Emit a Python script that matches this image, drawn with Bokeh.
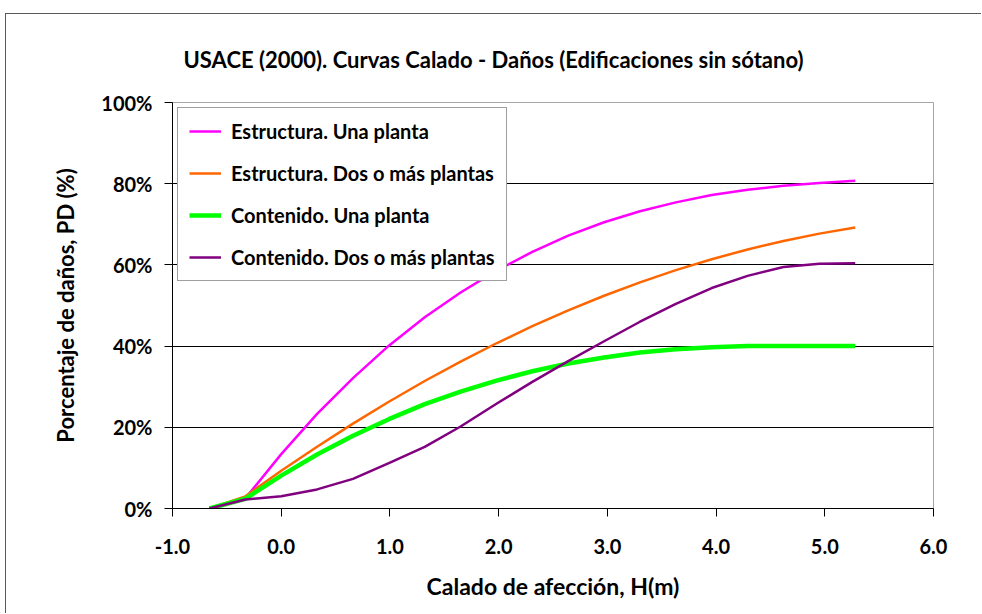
from bokeh.plotting import figure
from bokeh.models import (Range1d, FixedTicker, PrintfTickFormatter, Legend, LegendItem, Title)
from bokeh.embed import file_html
from bokeh.resources import INLINE

# ---- data ----
depth_m = [-0.66, -0.33, 0.0, 0.33, 0.66, 0.99, 1.32, 1.65, 1.98, 2.31, 2.64,
           2.97, 3.30, 3.63, 3.96, 4.29, 4.62, 4.95, 5.28]
estructura_una = [0.0, 2.5, 13.4, 23.3, 32.1, 40.1, 47.1, 53.2, 58.6, 63.2, 67.2,
                  70.5, 73.2, 75.4, 77.2, 78.5, 79.5, 80.2, 80.7]
estructura_dos = [0.0, 3.0, 9.3, 15.2, 20.9, 26.3, 31.4, 36.2, 40.7, 44.9, 48.8,
                  52.4, 55.7, 58.7, 61.4, 63.8, 65.9, 67.7, 69.2]
contenido_una = [0.0, 2.4, 8.1, 13.3, 17.9, 22.0, 25.7, 28.8, 31.5, 33.8, 35.7,
                 37.2, 38.4, 39.2, 39.7, 40.0, 40.0, 40.0, 40.0]
contenido_dos = [0.0, 2.2, 3.0, 4.7, 7.3, 11.2, 15.2, 20.2, 25.8, 31.2, 36.3,
                 41.2, 46.0, 50.4, 54.3, 57.3, 59.5, 60.3, 60.4]

series_names = ["Estructura. Una planta", "Estructura. Dos o más plantas",
                "Contenido. Una planta", "Contenido. Dos o más plantas"]
x_ticks = [-1, 0, 1, 2, 3, 4, 5, 6]
y_ticks = [0, 20, 40, 60, 80, 100]

title_text = "USACE (2000). Curvas Calado - Daños (Edificaciones sin sótano)"
x_label = "Calado de afección, H(m)"
y_label = "Porcentaje de daños, PD (%)"

FONT = "Lato"

p = figure(width=976, height=600, output_backend="svg", toolbar_location=None,
           x_range=Range1d(-1, 6), y_range=Range1d(0, 100),
           min_border_left=166, min_border_right=49, min_border_top=88, min_border_bottom=106)
p.styles = {"margin-left": "5px", "margin-top": "13px",
            "border-left": "1px solid #5A5A5A", "border-top": "1px solid #5A5A5A"}
p.background_fill_color = "white"
p.border_fill_color = "white"
p.outline_line_color = "#A6A6A6"
p.outline_line_width = 1

# grids
p.xgrid.visible = False
p.ygrid.ticker = FixedTicker(ticks=y_ticks)
p.ygrid.grid_line_color = "black"
p.ygrid.grid_line_width = 1

# axes
for ax in (p.xaxis[0], p.yaxis[0]):
    ax.axis_line_color = "black"
    ax.axis_line_width = 1
    ax.major_tick_line_color = "black"
    ax.major_tick_out = 8
    ax.major_tick_in = 0
    ax.minor_tick_line_color = None
    ax.major_label_text_font = FONT
    ax.major_label_text_font_style = "bold"
    ax.major_label_text_font_size = "20px"
    ax.major_label_text_color = "black"
    ax.axis_label_text_font = FONT
    ax.axis_label_text_font_style = "bold"
    ax.axis_label_text_color = "black"

p.xaxis.ticker = FixedTicker(ticks=x_ticks)
p.xaxis.formatter = PrintfTickFormatter(format="%.1f")
p.xaxis.axis_label = x_label
p.xaxis.axis_label_text_font_size = "23px"
p.xaxis.major_label_standoff = 22
p.xaxis.axis_label_standoff = 15

p.yaxis.ticker = FixedTicker(ticks=y_ticks)
p.yaxis.formatter = PrintfTickFormatter(format="%d%%")
p.yaxis.axis_label = y_label
p.yaxis.axis_label_text_font_size = "22px"
p.yaxis.major_label_standoff = 12
p.yaxis.axis_label_standoff = 19

# lines
colors = ["#FF00FF", "#FF6600", "#00FF00", "#800080"]
widths = [2.5, 2.5, 4.5, 2.5]
data = [estructura_una, estructura_dos, contenido_una, contenido_dos]
items = []
for name, ys, c, w in zip(series_names, data, colors, widths):
    r = p.line(depth_m, ys, line_color=c, line_width=w)
    items.append(LegendItem(label=name, renderers=[r]))

legend = Legend(items=items, location="top_left")
legend.margin = 5
legend.padding = 11
legend.spacing = 18
legend.glyph_width = 32
legend.glyph_height = 24
legend.label_height = 24
legend.label_standoff = 10
legend.label_text_font = FONT
legend.label_text_font_style = "bold"
legend.label_text_font_size = "20px"
legend.label_text_color = "black"
legend.border_line_color = "#404040"
legend.border_line_width = 1
legend.background_fill_color = "white"
legend.background_fill_alpha = 1
p.add_layout(legend, "center")

title = Title(text=title_text, align="left", offset=11, standoff=59,
              text_font=FONT, text_font_style="bold", text_font_size="22px",
              text_color="black")
p.add_layout(title, "above")

open("out.html", "w").write(file_html(p, INLINE))
